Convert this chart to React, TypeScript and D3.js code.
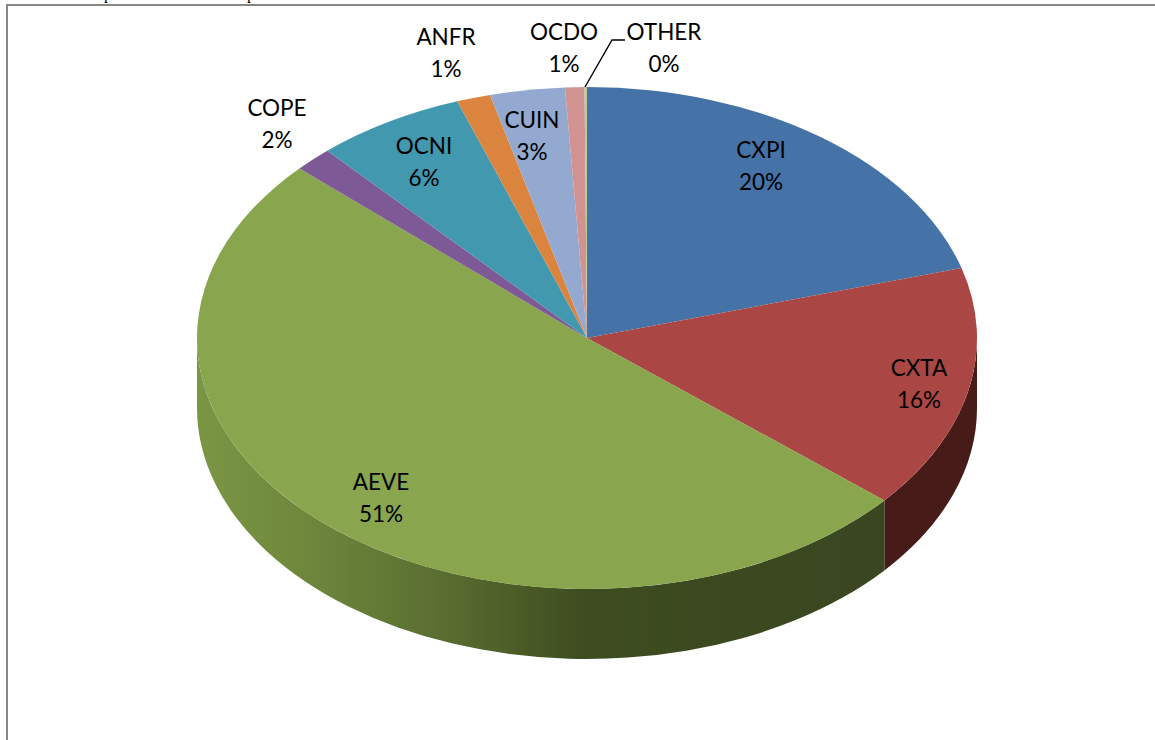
import React from "react";
import * as d3 from "d3";

const categories = ["CXPI", "CXTA", "AEVE", "COPE", "OCNI", "ANFR", "CUIN", "OCDO", "OTHER"];
const shares = [20.5, 15.7, 50.6, 1.6, 6.2, 1.4, 3.1, 0.8, 0.1];
const percentLabels = ["20%", "16%", "51%", "2%", "6%", "1%", "3%", "1%", "0%"];

const topColors = ["#4572a7", "#aa4643", "#89a54e", "#7d5a96", "#4198af", "#db843d", "#93a9cf", "#d19392", "#b9cd96"];
const wallColors = ["#223a55", "#471b17", "url(#wallGreen)", "#3e2c4c", "#1f4c58", "#6e421e", "#4a5568", "#694a49", "#5c674b"];

// label anchor points for the first text line (manually placed, as in the source chart)
const labelX = [761, 919, 381, 277, 424, 446, 532, 564, 664];
const labelY = [150, 368, 482, 108, 146, 37, 120, 32, 32];

const W = 1155, H = 740;
const cx = 587, cy = 338, rx = 390, ry = 251, depth = 70;
const k = ry / rx;

const pie = d3.pie<number>().sort(null).startAngle(0).endAngle(2 * Math.PI);
const arcs = pie(shares);
const arcGen = d3.arc<d3.PieArcDatum<number>>().innerRadius(0).outerRadius(rx);

// d3.path angles start at 3 o'clock, pie angles at 12 o'clock
const toPath = (a: number) => a - Math.PI / 2;

function wallPath(a0: number, a1: number): string | null {
  const s = Math.max(a0, Math.PI / 2);
  const e = Math.min(a1, (3 * Math.PI) / 2);
  if (e <= s) return null;
  const p = d3.path();
  const dy = depth / k;
  p.arc(0, 0, rx, toPath(s), toPath(e), false);
  p.arc(0, dy, rx, toPath(e), toPath(s), true);
  p.closePath();
  return p.toString();
}

export default function App() {
  return (
    <svg
      width={W}
      height={H}
      viewBox={`0 0 ${W} ${H}`}
      style={{ position: "absolute", left: 0, top: 0, background: "#fff" }}
    >
      <defs>
        <linearGradient id="wallGreen" gradientUnits="userSpaceOnUse" x1={-390} x2={298} y1={0} y2={0}>
          <stop offset="0" stopColor="#7a9644" />
          <stop offset="0.15" stopColor="#6f883c" />
          <stop offset="0.34" stopColor="#5b7032" />
          <stop offset="0.44" stopColor="#4f6029" />
          <stop offset="0.56" stopColor="#3e4c20" />
          <stop offset="1" stopColor="#394620" />
        </linearGradient>
      </defs>

      <text x={104} y={-1.5} fontFamily="Liberation Serif" fontSize={16}>p</text>
      <text x={247} y={-1.5} fontFamily="Liberation Serif" fontSize={16}>p</text>

      <line x1={6} y1={5} x2={W} y2={5} stroke="#868686" strokeWidth={2} />
      <line x1={7} y1={4} x2={7} y2={H} stroke="#868686" strokeWidth={2} />

      <g transform={`translate(${cx},${cy}) scale(1,${k})`}>
        {arcs.map((d, i) => {
          const w = wallPath(d.startAngle, d.endAngle);
          return w ? <path key={categories[i]} d={w} fill={wallColors[i]} /> : null;
        })}
        {arcs.map((d, i) => (
          <path key={categories[i]} d={arcGen(d) as string} fill={topColors[i]} />
        ))}
      </g>

      <polyline points="585,87 612,40 625,40" fill="none" stroke="#000" strokeWidth={1.4} />

      <g fontFamily="Lato" fontSize={22.5} fill="#000" textAnchor="middle">
        {categories.map((c, i) => (
          <text key={c} x={labelX[i]} y={labelY[i] + 8}>
            <tspan x={labelX[i]}>{c}</tspan>
            <tspan x={labelX[i]} dy={32}>{percentLabels[i]}</tspan>
          </text>
        ))}
      </g>
    </svg>
  );
}
